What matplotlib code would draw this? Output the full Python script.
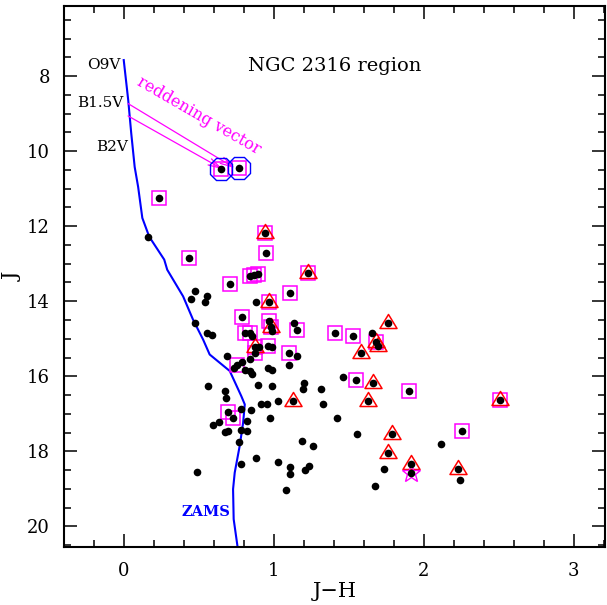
import numpy as np
import matplotlib
matplotlib.use("Agg")
import matplotlib.pyplot as plt
from matplotlib.path import Path
from matplotlib.markers import MarkerStyle

# ---------------- data (J-H, J) ----------------
# plain stars (dots only)
dot_jh = [0.16, 0.473, 0.553, 0.447, 0.54, 0.88, 1.133, 0.987, 0.473, 0.553, 0.587,
          0.853, 1.653, 0.90, 0.987, 1.153, 0.687, 0.787, 0.807, 0.84, 0.853, 0.96,
          0.987, 1.10, 1.46, 0.56, 0.673, 0.68, 0.893, 0.987, 1.20, 1.193, 1.313,
          1.027, 0.913, 0.953, 1.327, 0.78, 0.847, 1.42, 0.633, 0.593, 0.82, 0.973,
          0.673, 0.693, 0.78, 0.82, 0.767, 1.187, 1.26, 1.553, 2.113, 0.88, 0.78,
          0.487, 1.027, 1.107, 1.107, 1.207, 1.233, 1.08, 1.733, 1.673, 2.24, 0.84,
          0.733]
dot_j = [12.28, 13.74, 13.85, 13.93, 14.01, 14.02, 14.57, 14.80, 14.57, 14.84, 14.89,
         14.94, 14.86, 15.21, 15.23, 15.47, 15.47, 15.61, 15.82, 15.87, 15.95, 15.77,
         15.82, 15.71, 16.01, 16.27, 16.40, 16.59, 16.24, 16.27, 16.17, 16.35, 16.35,
         16.67, 16.75, 16.75, 16.75, 16.88, 16.91, 17.10, 17.23, 17.31, 17.18, 17.10,
         17.49, 17.47, 17.44, 17.47, 17.76, 17.73, 17.87, 17.55, 17.81, 18.19, 18.35,
         18.56, 18.29, 18.43, 18.61, 18.51, 18.40, 19.04, 18.48, 18.93, 18.77, 15.55,
         15.77]

# stars marked with magenta squares only
sq_jh = [0.233, 0.433, 0.947, 0.84, 0.867, 0.893, 0.707, 1.107, 0.787, 0.967, 1.153,
         0.807, 0.84, 1.407, 1.527, 0.96, 0.873, 1.10, 0.753, 1.547, 1.90, 0.693,
         0.727, 2.253]
sq_j = [11.24, 12.84, 12.71, 13.32, 13.29, 13.27, 13.53, 13.77, 14.41, 14.54, 14.78,
        14.86, 14.84, 14.84, 14.94, 15.20, 15.37, 15.37, 15.69, 16.09, 16.40, 16.94,
        17.10, 17.47]

# stars marked with both triangle and square
trisq_jh = [0.94, 1.227, 0.967, 0.98, 1.68, 0.873, 2.507]
trisq_j = [12.18, 13.24, 14.02, 14.70, 15.10, 15.23, 16.64]

# stars marked with red triangles only
tri_jh = [1.693, 1.76, 1.58, 1.66, 1.127, 1.627, 1.787, 1.76, 1.913, 2.227]
tri_j = [15.20, 14.57, 15.39, 16.17, 16.67, 16.67, 17.55, 18.05, 18.35, 18.48]

# stars marked with blue circles (and squares)
circ_jh = [0.647, 0.767]
circ_j = [10.47, 10.45]

# star marked with magenta star symbol
star_jh = [1.913]
star_j = [18.59]

# ZAMS
zams_jh = [0.0, 0.03, 0.05, 0.073, 0.096, 0.124, 0.17, 0.27, 0.29, 0.396, 0.462,
           0.529, 0.573, 0.64, 0.707, 0.784, 0.807, 0.796, 0.773, 0.74, 0.729,
           0.733, 0.758]
zams_j = [7.57, 8.64, 9.52, 10.42, 10.95, 11.78, 12.28, 12.89, 13.16, 13.87, 14.49,
          15.02, 15.42, 15.64, 15.86, 16.53, 16.75, 17.24, 17.86, 18.57, 19.01,
          19.81, 20.52]

# reddening vectors: (start jh, start J, end jh, end J)
vec_start_jh = [0.029, 0.029]
vec_start_j = [8.73, 9.06]
vec_end_jh = [0.74, 0.66]
vec_end_j = [10.45, 10.48]

# spectral type labels
sp_labels = ["O9V", "B1.5V", "B2V"]
sp_jh = [-0.02, 0.0, 0.03]
sp_j = [7.70, 8.72, 9.90]

# ---------------- plotting ----------------
plt.rcParams['font.family'] = ['DejaVu Serif']
plt.rcParams['mathtext.fontset'] = 'dejavuserif'

fig = plt.figure(figsize=(6.07, 6.05), dpi=100)
ax = fig.add_axes([0.105, 0.096, 0.892, 0.894])

MAG = '#ff00ff'
RED = '#ff0000'
BLUE = '#0000ff'

ax.plot(zams_jh, zams_j, color=BLUE, lw=1.5, zorder=2)

all_jh = dot_jh + sq_jh + trisq_jh + tri_jh + circ_jh + star_jh
all_j = dot_j + sq_j + trisq_j + tri_j + circ_j + star_j
ax.plot(all_jh, all_j, 'o', color='black', ms=5.5, mew=0, zorder=5)

sqx = sq_jh + trisq_jh + circ_jh
sqy = sq_j + trisq_j + circ_j
ax.plot(sqx, sqy, 's', mfc='none', mec=MAG, ms=10, mew=1.1, zorder=4)

tri_path = Path([(0, 0.9), (-0.85, -0.5), (0.85, -0.5), (0, 0.9)],
                [Path.MOVETO, Path.LINETO, Path.LINETO, Path.CLOSEPOLY])
trimark = MarkerStyle(tri_path)
ax.plot(tri_jh + trisq_jh, tri_j + trisq_j, linestyle='none', marker=trimark,
        mfc='none', mec=RED, ms=13, mew=1.1, zorder=4)

ax.plot(circ_jh, circ_j, '8', mfc='none', mec=BLUE, ms=17, mew=1.0, zorder=4)
ax.plot(star_jh, star_j, '*', mfc='none', mec=MAG, ms=14, mew=1.0, zorder=4)

for x0, y0, x1, y1 in zip(vec_start_jh, vec_start_j, vec_end_jh, vec_end_j):
    ax.annotate('', xy=(x1, y1), xytext=(x0, y0),
                arrowprops=dict(arrowstyle='->,head_length=0.9,head_width=0.25',
                                color=MAG, lw=0.9, shrinkA=0, shrinkB=0), zorder=3)

for lab, x, y in zip(sp_labels, sp_jh, sp_j):
    ax.text(x, y, lab, ha='right', va='center', fontsize=11, color='black')

ax.text(0.5, 9.04, 'reddening vector', rotation=-30, rotation_mode='anchor',
        ha='center', va='center', fontsize=11.5, color=MAG)
ax.text(1.407, 7.73, 'NGC 2316 region', ha='center', va='center', fontsize=14)
ax.text(0.55, 19.62, 'ZAMS', ha='center', va='center', fontsize=10.5,
        color=BLUE, fontweight='bold')

ax.set_xlim(-0.4, 3.21)
ax.set_ylim(20.55, 6.13)
ax.set_xticks([0, 1, 2, 3])
ax.set_xticks(np.arange(-0.4, 3.21, 0.2), minor=True)
ax.set_yticks([8, 10, 12, 14, 16, 18, 20])
ax.set_yticks(np.arange(6.5, 20.51, 0.5), minor=True)
ax.tick_params(which='both', direction='in', top=True, right=True, width=1.1)
ax.tick_params(which='major', length=9.5, labelsize=13)
ax.tick_params(which='minor', length=4.8)
ax.tick_params(axis='x', which='major', pad=11)
ax.tick_params(axis='y', which='major', pad=10)
for s in ax.spines.values():
    s.set_linewidth(1.5)

ax.set_xlabel('J\u2212H', fontsize=15, labelpad=1)
ax.set_ylabel('J', fontsize=15, labelpad=3)

fig.savefig('out.png', dpi=100)
